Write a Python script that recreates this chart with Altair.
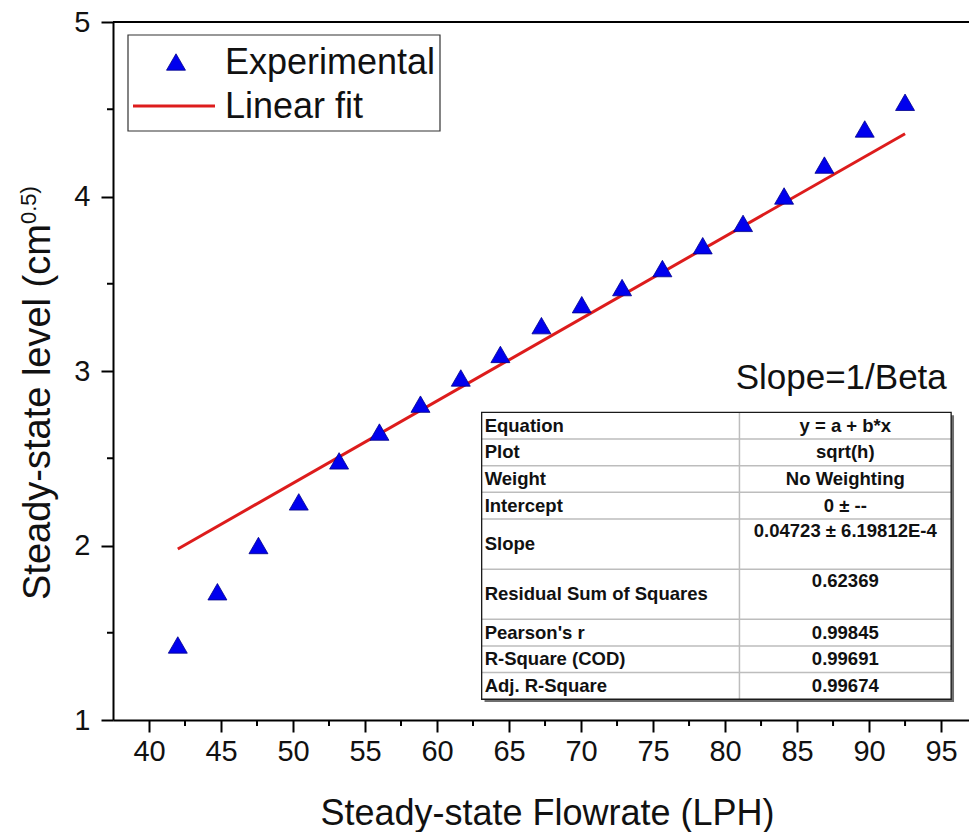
import altair as alt
import pandas as pd

# ---------------- data ----------------
flowrate = [42.0, 44.75, 47.6, 50.4, 53.2, 56.0, 58.85, 61.65, 64.4, 67.25,
            70.05, 72.85, 75.65, 78.45, 81.25, 84.1, 86.9, 89.7, 92.5]
level = [1.43, 1.735, 2.00, 2.25, 2.485, 2.65, 2.81, 2.96, 3.095, 3.26,
         3.38, 3.478, 3.587, 3.718, 3.846, 4.003, 4.18, 4.387, 4.54]

fit_x = [42.0, 92.5]
fit_y = [1.98, 4.36]

table_labels = ["Equation", "Plot", "Weight", "Intercept", "Slope",
                "Residual Sum of Squares", "Pearson's r", "R-Square (COD)",
                "Adj. R-Square"]
table_values = ["y = a + b*x", "sqrt(h)", "No Weighting", "0 \u00b1 --",
                "0.04723 \u00b1 6.19812E-4", "0.62369", "0.99845", "0.99691",
                "0.99674"]
row_units = [1, 1, 1, 1, 1.88, 1.88, 1, 1, 1]

x_major = [40, 45, 50, 55, 60, 65, 70, 75, 80, 85, 90, 95]
x_minor = [42.5, 47.5, 52.5, 57.5, 62.5, 67.5, 72.5, 77.5, 82.5, 87.5, 92.5]
y_major = [1, 2, 3, 4, 5]
y_minor = [1.5, 2.5, 3.5, 4.5]

legend_labels = ["Experimental", "Linear fit"]

# ---------------- layout ----------------
W, H = 856, 698
FONT = "Liberation Sans"
BLUE = "#0000ee"
RED = "#dd1c1c"

xs = alt.Scale(domain=[37.5, 96.94], nice=False, zero=False)
ys = alt.Scale(domain=[1, 5], nice=False, zero=False)

pts = pd.DataFrame({"x": flowrate, "y": level})
fit = pd.DataFrame({"x": fit_x, "y": fit_y})

x_axis = alt.Axis(
    values=x_major, format="d", tickSize=12,
    labelFontSize=29, labelPadding=5, labelFont=FONT, labelColor="#111",
    grid=False, domainColor="black", domainWidth=2, tickColor="black", tickWidth=2,
    title="Steady-state Flowrate (LPH)", titleFont=FONT, titleFontSize=36,
    titleFontWeight="normal", titleColor="#111", titleX=434, titleY=104,
    titleBaseline="alphabetic", titleAlign="center", labelFlush=False,
)
y_axis = alt.Axis(
    values=y_major, format="d", tickSize=12,
    labelFontSize=29, labelPadding=11, labelFont=FONT, labelColor="#111",
    grid=False, domainColor="black", domainWidth=2, tickColor="black", tickWidth=2,
    title=None, labelFlush=False,
)

# fit line and points
line = alt.Chart(fit).mark_line(color=RED, strokeWidth=3).encode(
    x=alt.X("x:Q", scale=xs, axis=x_axis),
    y=alt.Y("y:Q", scale=ys, axis=y_axis),
)
points = alt.Chart(pts).mark_point(
    shape="triangle-up", filled=True, size=360, fill=BLUE, stroke="#00008a",
    strokeWidth=0.8, opacity=1,
).encode(x=alt.X("x:Q", scale=xs), y=alt.Y("y:Q", scale=ys))

# minor ticks (outside the axes)
xminor = alt.Chart(pd.DataFrame({"v": x_minor})).mark_rule(
    color="black", strokeWidth=2).encode(
    x=alt.X("v:Q", scale=xs), y=alt.value(H), y2=alt.value(H + 6))
yminor = alt.Chart(pd.DataFrame({"v": y_minor})).mark_rule(
    color="black", strokeWidth=2).encode(
    y=alt.Y("v:Q", scale=ys), x=alt.value(0), x2=alt.value(-6))

# ---------------- statistics table (data coordinates) ----------------
T_X0, T_XM, T_X1 = 63.1, 81.0, 95.7
T_TOP, UNIT = 2.763, 0.1528
rows = []
top = T_TOP
for lab, val, u in zip(table_labels, table_values, row_units):
    bottom = top - u * UNIT
    center = (top + bottom) / 2
    vy = center if u == 1 else top - 0.46 * UNIT
    rows.append(dict(label=lab, value=val, top=top, bottom=bottom, ly=center, vy=vy))
    top = bottom
T_BOT = top
tdf = pd.DataFrame(rows)
box = pd.DataFrame({"x0": [T_X0], "x1": [T_X1], "y0": [T_TOP], "y1": [T_BOT]})

shadow = alt.Chart(box).mark_rect(fill="#6e6e6e").encode(
    x=alt.X("sx0:Q", scale=xs), x2="sx1:Q",
    y=alt.Y("sy0:Q", scale=ys), y2="sy1:Q",
).transform_calculate(
    sx0="datum.x0 + 0.2", sx1="datum.x1 + 0.2",
    sy0="datum.y0 - 0.016", sy1="datum.y1 - 0.016",
)
panel = alt.Chart(box).mark_rect(fill="white").encode(
    x=alt.X("x0:Q", scale=xs), x2="x1:Q", y=alt.Y("y0:Q", scale=ys), y2="y1:Q")
hlines = alt.Chart(tdf.iloc[:-1]).mark_rule(color="#bdbdbd", strokeWidth=1.5).encode(
    x=alt.datum(T_X0, scale=xs), x2=alt.datum(T_X1),
    y=alt.Y("bottom:Q", scale=ys))
vline = alt.Chart(box).mark_rule(color="#bdbdbd", strokeWidth=1.5).encode(
    x=alt.datum(T_XM, scale=xs), y=alt.Y("y0:Q", scale=ys), y2="y1:Q")
frame = alt.Chart(box).mark_rect(fill=None, stroke="#1a1a1a", strokeWidth=1.3).encode(
    x=alt.X("x0:Q", scale=xs), x2="x1:Q", y=alt.Y("y0:Q", scale=ys), y2="y1:Q")
tlabels = alt.Chart(tdf).mark_text(
    align="left", baseline="middle", dx=3, font=FONT, fontWeight="bold",
    fontSize=18.5, color="#111").encode(
    x=alt.datum(T_X0, scale=xs), y=alt.Y("ly:Q", scale=ys), text="label:N")
tvalues = alt.Chart(tdf).mark_text(
    align="center", baseline="middle", font=FONT, fontWeight="bold",
    fontSize=18.5, color="#111").encode(
    x=alt.datum((T_XM + T_X1) / 2, scale=xs), y=alt.Y("vy:Q", scale=ys),
    text="value:N")

# annotation
slope_txt = alt.Chart(pd.DataFrame({"t": ["Slope=1/Beta"]})).mark_text(
    align="right", baseline="middle", font=FONT, fontSize=35, color="#111").encode(
    x=alt.datum(95.4, scale=xs), y=alt.datum(2.96, scale=ys), text="t:N")

# ---------------- legend (pixel layout) ----------------
one = pd.DataFrame({"a": [0]})
leg_box = alt.Chart(one).mark_rect(fill="white", stroke="#333", strokeWidth=1.2).encode(
    x=alt.value(15), x2=alt.value(327), y=alt.value(13), y2=alt.value(109))
leg_tri = alt.Chart(one).mark_point(
    shape="triangle-up", filled=True, size=360, fill=BLUE, stroke="#00008a",
    strokeWidth=0.8, opacity=1).encode(x=alt.value(63), y=alt.value(40))
leg_line = alt.Chart(one).mark_rule(color=RED, strokeWidth=3).encode(
    x=alt.value(20), x2=alt.value(102), y=alt.value(84))
leg_text = alt.Chart(pd.DataFrame({"t": legend_labels, "py": [41, 85]})).mark_text(
    align="left", baseline="middle", font=FONT, fontSize=36, color="#111").encode(
    x=alt.value(112), y=alt.Y("py:Q", scale=None), text="t:N")

# top frame line
top_rule = alt.Chart(one).mark_rule(color="black", strokeWidth=2).encode(
    x=alt.value(0), x2=alt.value(W), y=alt.value(0))

# y-axis title with superscript
ytitle = alt.Chart(pd.DataFrame({"t": ["Steady-state level (cm"]})).mark_text(
    angle=270, align="left", baseline="alphabetic", font=FONT, fontSize=38,
    color="#111").encode(x=alt.value(-63), y=alt.value(578), text="t:N")
ysup = alt.Chart(pd.DataFrame({"t": ["0.5)"]})).mark_text(
    angle=270, align="left", baseline="alphabetic", font=FONT, fontSize=22,
    color="#111").encode(x=alt.value(-77), y=alt.value(202), text="t:N")

chart = alt.layer(
    shadow, panel, hlines, vline, frame, tlabels, tvalues,
    line, points, slope_txt,
    leg_box, leg_tri, leg_line, leg_text,
    top_rule, xminor, yminor, ytitle, ysup,
).properties(
    width=W, height=H, autosize="none", background="white",
    padding={"left": 113, "top": 22, "right": 0, "bottom": 112},
).configure_view(strokeWidth=0).configure(font=FONT)

chart.save("out.html", embed_options={"renderer": "svg", "actions": False})
